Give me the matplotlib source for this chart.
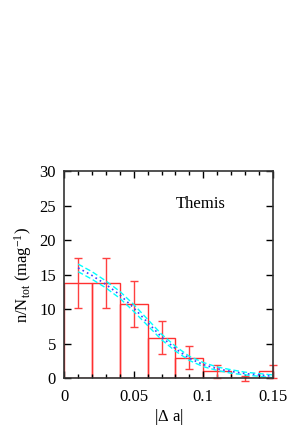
import numpy as np
import matplotlib
matplotlib.use("Agg")
import matplotlib.pyplot as plt

plt.rcParams['font.family'] = ['Liberation Serif', 'DejaVu Serif']
plt.rcParams['mathtext.fontset'] = 'custom'
plt.rcParams['mathtext.rm'] = 'Liberation Serif'
plt.rcParams['mathtext.it'] = 'Liberation Serif'

# histogram (bin width 0.02)
bin_left = [0.0, 0.02, 0.04, 0.06, 0.08, 0.10, 0.12, 0.14]
hist_val = [13.8, 13.8, 10.8, 5.9, 3.0, 1.0, 0.0, 1.0]
# points with error bars
pt_x = [0.01, 0.03, 0.05, 0.07, 0.09, 0.11, 0.13, 0.15]
pt_y = [13.8, 13.8, 10.8, 5.9, 3.0, 1.0, 0.0, 1.0]
pt_err = [3.6, 3.6, 3.3, 2.4, 1.7, 1.0, 0.4, 1.0]

# fitted curve and its band
fit_x = [0.01, 0.02, 0.03, 0.04, 0.05, 0.06, 0.07, 0.08, 0.09, 0.10, 0.11, 0.12, 0.13, 0.14, 0.15]
fit_y = [16.0, 14.9, 13.6, 12.1, 10.2, 8.1, 6.0, 4.3, 2.9, 2.0, 1.4, 1.0, 0.7, 0.5, 0.3]
fit_band = [0.55, 0.55, 0.5, 0.5, 0.5, 0.45, 0.4, 0.35, 0.3, 0.3, 0.25, 0.25, 0.2, 0.2, 0.2]

fig = plt.figure(figsize=(3.0, 4.28), dpi=100)
ax = fig.add_axes([0.214, 0.116, 0.695, 0.484])

ax.bar(bin_left, hist_val, width=0.02, align='edge', fill=False,
       edgecolor='#ff3030', linewidth=1.0)
ax.errorbar(pt_x, pt_y, yerr=pt_err, fmt='none', ecolor='#ff4040',
            elinewidth=1.0, capsize=3, capthick=1.0, clip_on=False)

fx = np.array(fit_x)
fy = np.array(fit_y)
fb = np.array(fit_band)
ax.plot(fx, fy + fb, color='cyan', linestyle=(0, (4, 2)), linewidth=1.0)
ax.plot(fx, fy - fb, color='cyan', linestyle=(0, (4, 2)), linewidth=1.0)
ax.plot(fx, fy, color='#4040ff', linestyle=(0, (1, 2)), linewidth=1.2)

ax.set_xlim(0, 0.15)
ax.set_ylim(0, 30)
ax.set_xticks([0, 0.05, 0.1, 0.15])
ax.set_xticklabels(['0', '0.05', '0.1', '0.15'])
ax.set_xticks(np.arange(0, 0.151, 0.01), minor=True)
ax.set_yticks([0, 5, 10, 15, 20, 25, 30])
ax.tick_params(which='both', direction='in', top=True, right=True,
               labelsize=12)
ax.tick_params(axis='x', pad=8)
ax.tick_params(axis='y', pad=6)
ax.tick_params(which='major', length=5, width=1)
ax.tick_params(which='minor', length=3, width=1)
for s in ax.spines.values():
    s.set_linewidth(1.2)
    s.set_color('#333333')

ax.text(0.098, 25.2, 'Themis', fontsize=12, ha='center', va='center')
ax.set_xlabel(r'$|\Delta\ \mathrm{a}|$', fontsize=12, labelpad=1)
ax.set_ylabel(r'$\mathrm{n/N_{tot}\ (mag^{-1})}$', fontsize=12)

fig.savefig('out.png', dpi=100)
